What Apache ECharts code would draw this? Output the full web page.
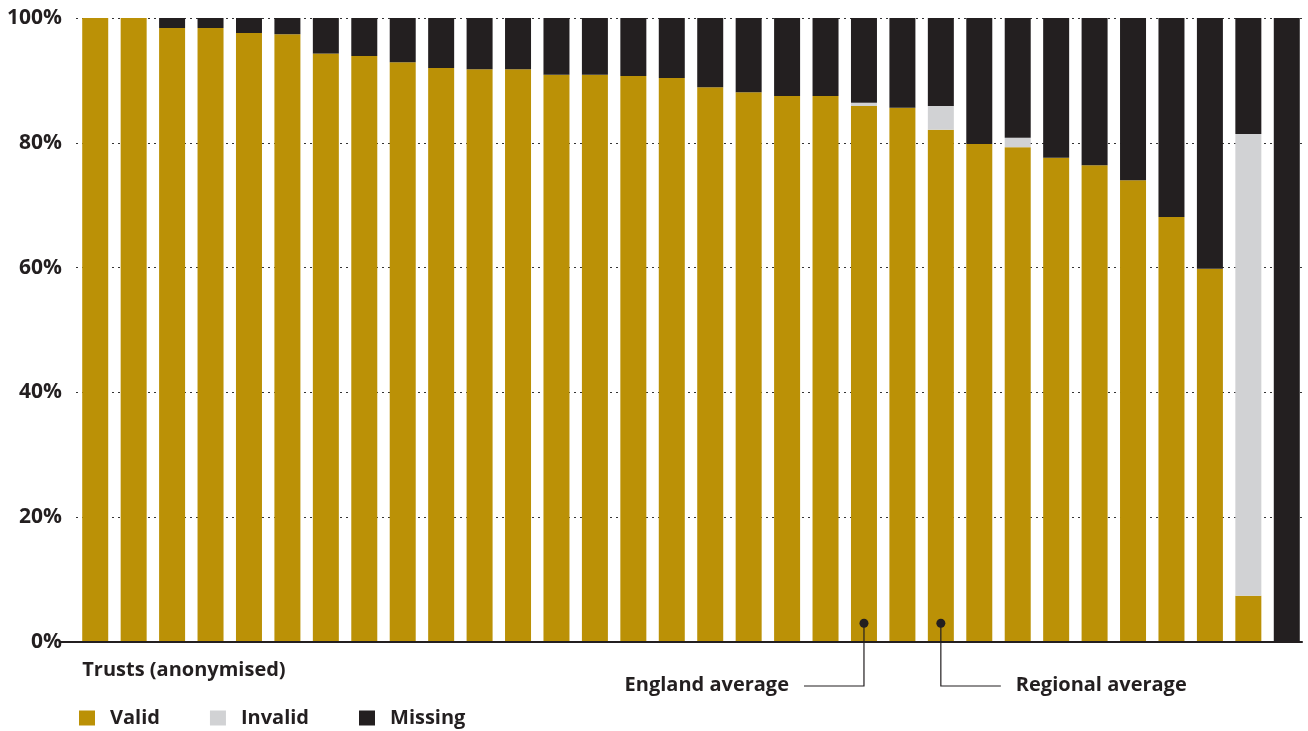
<!DOCTYPE html>
<html>
<head>
<meta charset="utf-8">
<script src="https://cdn.jsdelivr.net/npm/echarts@6/dist/echarts.min.js"></script>
<style>
  html, body { margin: 0; padding: 0; background: #fff; }
  #chart { width: 1308px; height: 731px; }
</style>
</head>
<body>
<div id="chart"></div>
<script>
// Share of records per trust (percent), anonymised trusts sorted by valid share
const trusts = Array.from({ length: 32 }, (_, i) => 'T' + (i + 1));
const valid = [100, 100, 98.4, 98.4, 97.6, 97.4, 94.3, 93.9, 92.9, 92.0,
  91.8, 91.8, 90.9, 90.9, 90.7, 90.4, 88.9, 88.1, 87.5, 87.5,
  85.9, 85.6, 82.1, 79.8, 79.3, 77.6, 76.4, 74.0, 68.1, 59.8,
  7.4, 0];
const invalid = [0, 0, 0, 0, 0, 0, 0, 0, 0, 0,
  0, 0, 0, 0, 0, 0, 0, 0, 0, 0,
  0.5, 0, 3.8, 0, 1.5, 0, 0, 0, 0, 0,
  74.0, 0];
const missing = valid.map((v, i) => +(100 - v - invalid[i]).toFixed(1));
const yTicks = [0, 20, 40, 60, 80, 100];
const seriesNames = ['Valid', 'Invalid', 'Missing'];
// Reference averages marked under the bars
const averages = [
  { label: 'England average', index: 20, side: 'left' },
  { label: 'Regional average', index: 22, side: 'right' }
];

const COLORS = { Valid: '#bb9106', Invalid: '#d1d2d4', Missing: '#231f20' };
const FONT = '"Open Sans", "Noto Sans", sans-serif';
const INK = '#231f20';

const chart = echarts.init(document.getElementById('chart'), null, { renderer: 'canvas' });

const dataBySeries = { Valid: valid, Invalid: invalid, Missing: missing };

chart.setOption({
  animation: false,
  grid: { left: 76, right: 2, top: 18, bottom: 89 },
  legend: {
    data: seriesNames,
    left: 79,
    top: 708,
    padding: 0,
    icon: 'rect',
    itemWidth: 16,
    itemHeight: 15,
    itemGap: 50,
    textStyle: { fontFamily: FONT, fontWeight: 'bold', fontSize: 20, color: INK, padding: [0, 0, 0, 10] }
  },
  xAxis: {
    type: 'category',
    data: trusts,
    axisLine: { show: false },
    axisTick: { show: false },
    axisLabel: { show: false },
    splitLine: { show: false }
  },
  yAxis: {
    type: 'value',
    min: yTicks[0],
    max: yTicks[yTicks.length - 1],
    interval: yTicks[1] - yTicks[0],
    axisLine: { show: false },
    axisTick: { show: false },
    axisLabel: {
      formatter: '{value}%',
      fontFamily: FONT, fontWeight: 'bold', fontSize: 21, color: INK, margin: 14
    },
    splitLine: { show: true, lineStyle: { color: '#333', type: [2, 4], width: 1 } }
  },
  series: seriesNames.map(name => ({
    name,
    type: 'bar',
    stack: 'share',
    barWidth: 26,
    itemStyle: { color: COLORS[name] },
    data: dataBySeries[name]
  }))
});

// Baseline, axis title and average annotations placed from the axis scales
function drawOverlay() {
  const p0 = chart.convertToPixel({ gridIndex: 0 }, [0, 0]);
  const pLast = chart.convertToPixel({ gridIndex: 0 }, [trusts.length - 1, 0]);
  const baseY = p0[1];
  const elements = [
    {
      type: 'line', z: 10,
      shape: { x1: 59, y1: baseY, x2: pLast[0] + 16, y2: baseY },
      style: { stroke: INK, lineWidth: 2 }
    },
    {
      type: 'text', z: 11,
      x: p0[0] - 13, y: baseY + 28,
      style: { text: 'Trusts (anonymised)', font: 'bold 20px ' + FONT, fill: INK, verticalAlign: 'middle' }
    }
  ];
  averages.forEach(a => {
    const dot = chart.convertToPixel({ gridIndex: 0 }, [a.index, 3]);
    const lineY = baseY + 44;
    const hx = a.side === 'left' ? dot[0] - 60 : dot[0] + 60;
    elements.push({
      type: 'polyline', z: 10,
      shape: { points: [[dot[0], dot[1]], [dot[0], lineY], [hx, lineY]] },
      style: { stroke: INK, lineWidth: 1.2, fill: null }
    });
    elements.push({
      type: 'circle', z: 11,
      shape: { cx: dot[0], cy: dot[1], r: 4.5 },
      style: { fill: INK }
    });
    elements.push({
      type: 'text', z: 11,
      x: a.side === 'left' ? hx - 15 : hx + 15,
      y: lineY - 1,
      style: {
        text: a.label, font: 'bold 20px ' + FONT, fill: INK,
        align: a.side === 'left' ? 'right' : 'left', verticalAlign: 'middle'
      }
    });
  });
  chart.setOption({ graphic: { elements } });
}
drawOverlay();
</script>
</body>
</html>
